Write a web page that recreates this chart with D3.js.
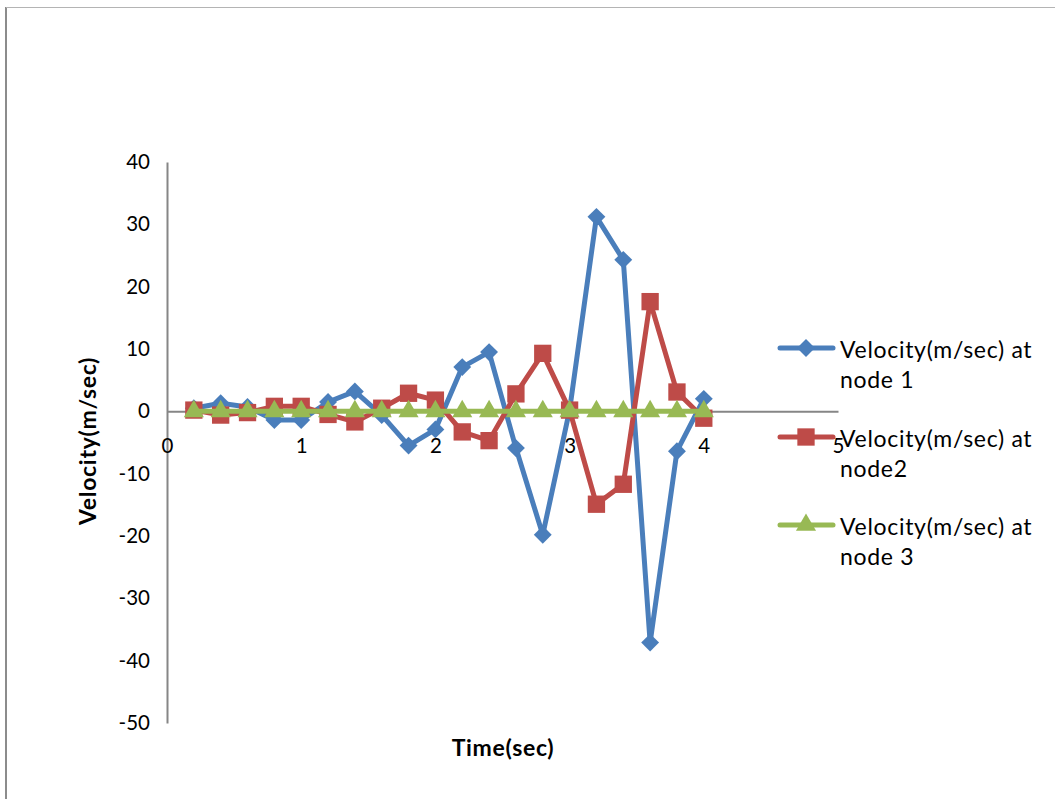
<!DOCTYPE html>
<html>
<head>
<meta charset="utf-8">
<script src="https://cdn.jsdelivr.net/npm/d3@7"></script>
<style>
  html, body { margin: 0; padding: 0; background: #fff; }
  svg { display: block; font-family: Lato, "Liberation Sans", sans-serif; }
</style>
</head>
<body>
<svg id="chart" width="1055" height="799"></svg>
<script>
// Sample times (s)
const times = [0.2, 0.4, 0.6, 0.8, 1.0, 1.2, 1.4, 1.6, 1.8, 2.0,
               2.2, 2.4, 2.6, 2.8, 3.0, 3.2, 3.4, 3.6, 3.8, 4.0];
// Velocity at each node (m/sec)
const node1 = [0.5, 1.3, 0.7, -1.4, -1.4, 1.5, 3.2, -0.6, -5.5, -2.9,
               7.1, 9.5, -5.9, -19.8, 0.2, 31.2, 24.3, -37.1, -6.4, 2.0];
const node2 = [0.2, -0.6, -0.2, 0.8, 0.8, -0.5, -1.7, 0.5, 2.9, 1.8,
               -3.3, -4.7, 2.8, 9.3, 0.2, -14.9, -11.7, 17.6, 3.1, -1.1];
const node3 = [0, 0, 0, 0, 0, 0, 0, 0, 0, 0,
               0, 0, 0, 0, 0, 0, 0, 0, 0, 0];
const seriesNames = ["Velocity(m/sec) at|node 1", "Velocity(m/sec) at|node2", "Velocity(m/sec) at|node 3"];
const xTicks = [0, 1, 2, 3, 4, 5];
const yTicks = [40, 30, 20, 10, 0, -10, -20, -30, -40, -50];

const colors = ["#4a7ebb", "#be4b48", "#98b954"];
// Diamond = square turned 45 degrees
const shapes = [d3.symbolSquare, d3.symbolSquare, d3.symbolTriangle];
const symSizes = [160, 300, 175];
const symRotate = [45, 0, 0];

const svg = d3.select("#chart");
const font = "Lato, 'Liberation Sans', sans-serif";

// Outer chart frame
svg.append("line").attr("x1", 6).attr("x2", 6).attr("y1", 7).attr("y2", 799)
  .attr("stroke", "#8c8c8c").attr("stroke-width", 2);
svg.append("line").attr("x1", 6).attr("x2", 1055).attr("y1", 7.5).attr("y2", 7.5)
  .attr("stroke", "#b4b4b4").attr("stroke-width", 1);

const x = d3.scaleLinear().domain([0, 5]).range([167, 838]);
const y = d3.scaleLinear().domain([-50, 40]).range([723, 162]);

const axisColor = "#868686";
const fmt = d => String(d);

// Y axis
const yAxis = svg.append("g").attr("transform", `translate(${x(0)},0)`)
  .call(d3.axisLeft(y).tickValues(yTicks).tickSize(0).tickPadding(17).tickFormat(fmt));
yAxis.select(".domain").attr("stroke", axisColor).attr("stroke-width", 2);
yAxis.selectAll("text").attr("font-size", 20.5).attr("fill", "#000").attr("font-family", font);

// X axis through zero
const xAxis = svg.append("g").attr("transform", `translate(0,${y(0)})`)
  .call(d3.axisBottom(x).tickValues(xTicks).tickSize(0).tickPadding(27).tickFormat(fmt));
xAxis.select(".domain").attr("stroke", axisColor).attr("stroke-width", 2);
xAxis.selectAll("text").attr("font-size", 20.5).attr("fill", "#000").attr("font-family", font);

// Axis titles
svg.append("text").attr("x", 503).attr("y", 756).attr("text-anchor", "middle")
  .attr("font-size", 23).attr("letter-spacing", 0.7).attr("font-weight", "bold").text("Time(sec)");
svg.append("text").attr("transform", "translate(96,441) rotate(-90)")
  .attr("text-anchor", "middle").attr("font-size", 23).attr("letter-spacing", 0.7)
  .attr("font-weight", "bold").text("Velocity(m/sec)");

// Series
const allSeries = [node1, node2, node3];
const line = d3.line().x(d => x(d[0])).y(d => y(d[1]));

allSeries.forEach((vals, i) => {
  const pts = times.map((t, j) => [t, vals[j]]);
  const g = svg.append("g");
  g.append("path").datum(pts).attr("d", line)
    .attr("fill", "none").attr("stroke", colors[i]).attr("stroke-width", 5)
    .attr("stroke-linejoin", "round").attr("stroke-linecap", "round");
  g.selectAll("path.mk").data(pts).join("path").attr("class", "mk")
    .attr("transform", d => `translate(${x(d[0])},${y(d[1])}) rotate(${symRotate[i]})`)
    .attr("d", d3.symbol().type(shapes[i]).size(symSizes[i]))
    .attr("fill", colors[i]);
});

// Legend
const legendY = [348, 437, 525];
seriesNames.forEach((name, i) => {
  const g = svg.append("g").attr("transform", `translate(0,${legendY[i]})`);
  g.append("line").attr("x1", 780).attr("x2", 833).attr("y1", 0).attr("y2", 0)
    .attr("stroke", colors[i]).attr("stroke-width", 5).attr("stroke-linecap", "round");
  g.append("path").attr("transform", `translate(806,0) rotate(${symRotate[i]})`)
    .attr("d", d3.symbol().type(shapes[i]).size(symSizes[i])).attr("fill", colors[i]);
  name.split("|").forEach((part, k) => {
    g.append("text").attr("x", 840).attr("y", 10 + k * 30)
      .attr("font-size", 23).attr("letter-spacing", 0.7).attr("fill", "#000").text(part);
  });
});
</script>
</body>
</html>
